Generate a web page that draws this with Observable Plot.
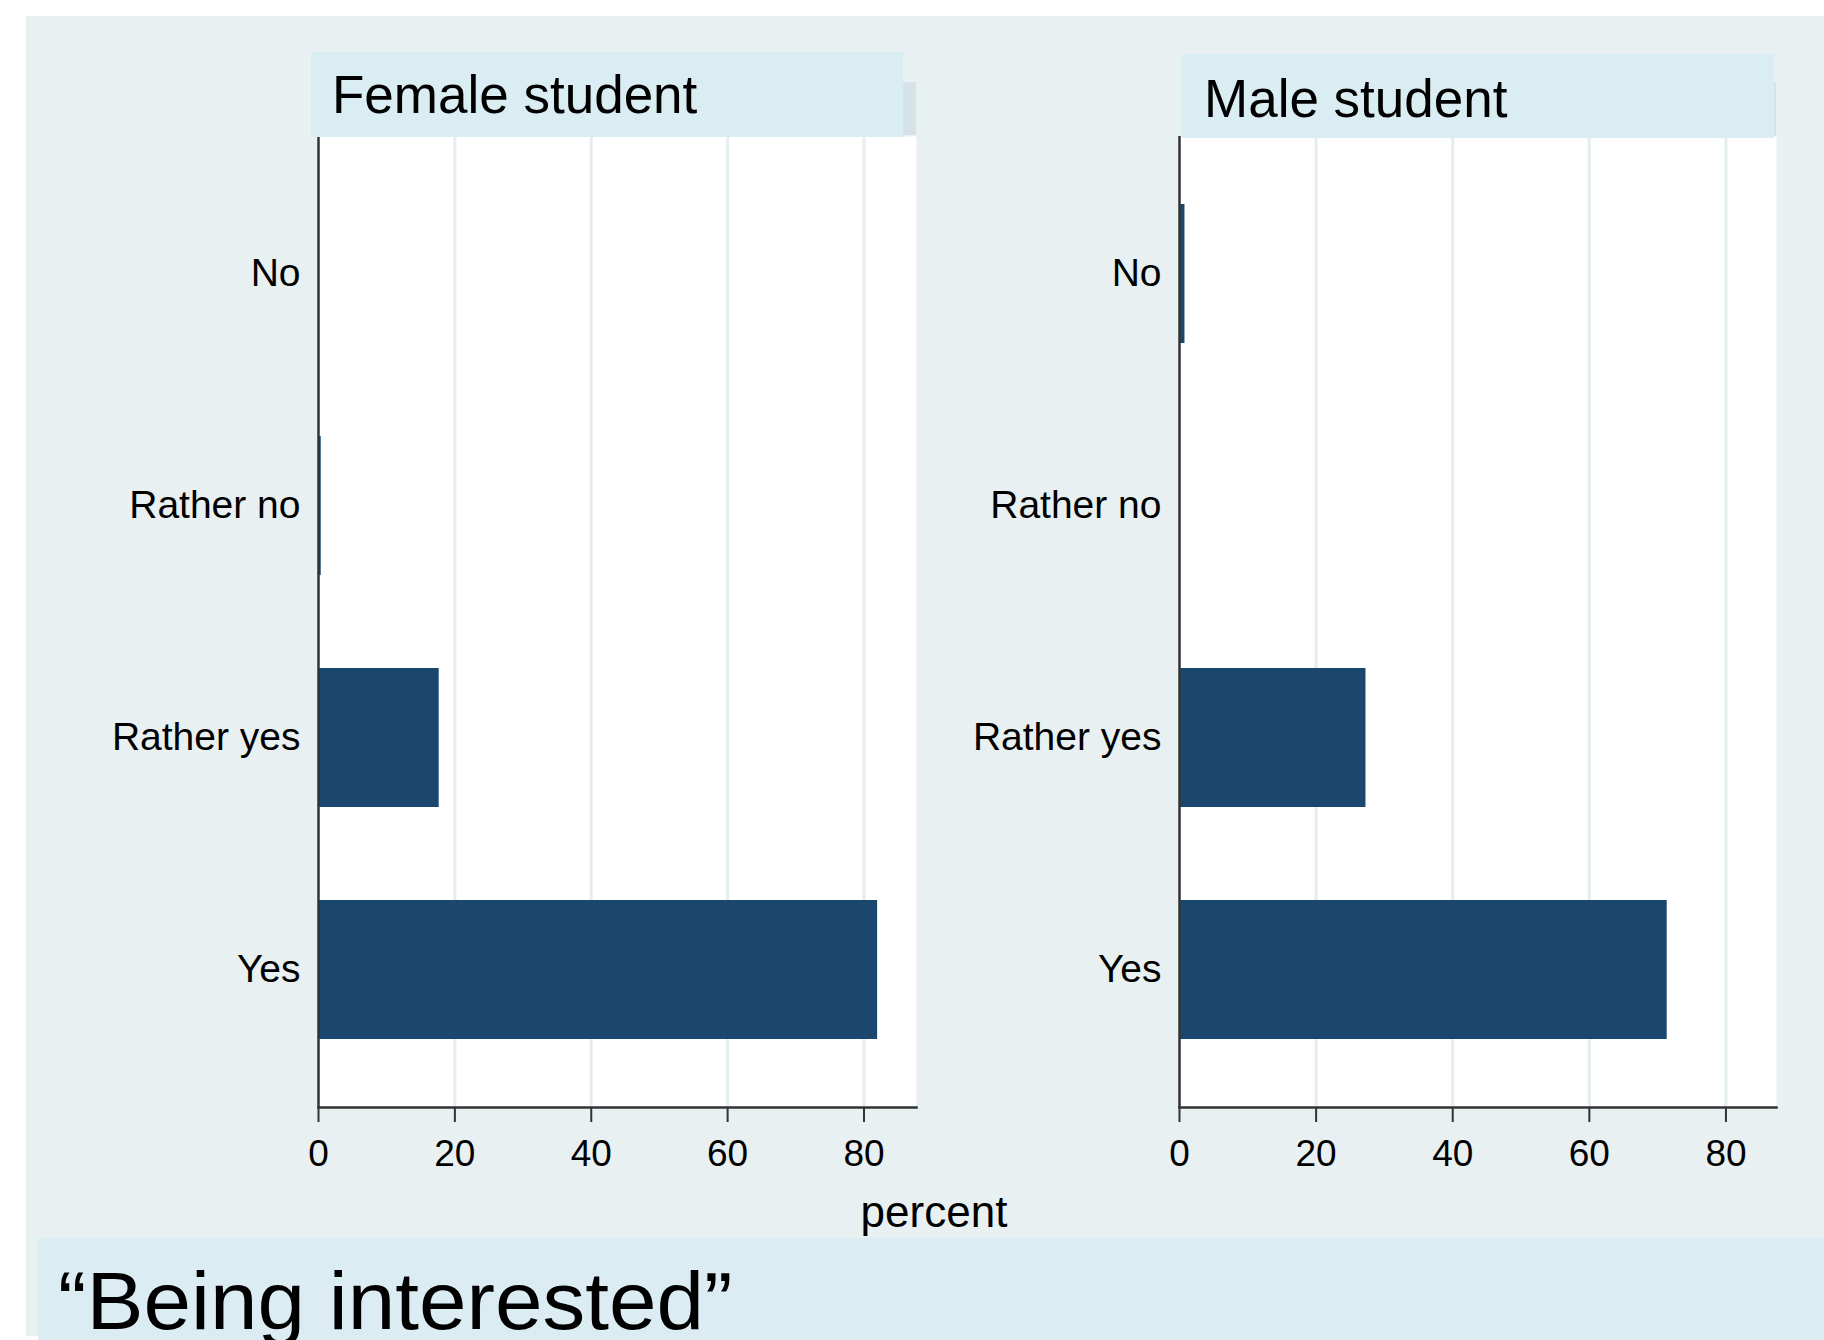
<!DOCTYPE html>
<html>
<head>
<meta charset="utf-8">
<script src="https://cdn.jsdelivr.net/npm/d3@7"></script>
<script src="https://cdn.jsdelivr.net/npm/@observablehq/plot@0.6"></script>
<style>
  html, body { margin: 0; padding: 0; background: #ffffff; }
  #root { position: relative; width: 1824px; height: 1340px; overflow: hidden; font-family: "Liberation Sans", Arial, sans-serif; }
  .abs { position: absolute; }
  .txt { white-space: nowrap; color: #000; }
</style>
</head>
<body>
<div id="root">
  <div class="abs" style="left:26px;top:16px;width:1798px;height:1320px;background:#e8f0f2;"></div>
  <div id="female" class="abs" style="left:0px;top:0px;"></div>
  <div id="male" class="abs" style="left:900px;top:0px;"></div>
  <div class="abs" style="left:311px;top:82px;width:605px;height:53px;background:#d5e3e9;"></div>
  <div class="abs" style="left:311px;top:52px;width:592px;height:85px;background:#daedf3;"></div>
  <div class="abs" style="left:1182px;top:82px;width:594px;height:54px;background:#d5e3e9;"></div>
  <div class="abs" style="left:1182px;top:54px;width:592px;height:84px;background:#daedf3;"></div>
  <div id="titleF" class="abs txt" style="left:332px;top:68px;font-size:53px;line-height:53px;"></div>
  <div id="titleM" class="abs txt" style="left:1204px;top:72px;font-size:53px;line-height:53px;"></div>
  <div id="xlabel" class="abs txt" style="left:734px;width:400px;text-align:center;top:1190px;font-size:44px;line-height:44px;"></div>
  <div class="abs" style="left:38px;top:1238px;width:1786px;height:102px;background:#dbedf3;"></div>
  <div id="caption" class="abs txt" style="left:58px;top:1261px;font-size:81px;line-height:81px;transform:scaleX(1.055);transform-origin:left top;"></div>
</div>
<script>
// ---- data ----
const categories = ["No", "Rather no", "Rather yes", "Yes"];
const femaleValues = [0, 0.4, 17.7, 82.0];
const maleValues = [0.8, 0, 27.3, 71.4];
const panelTitles = ["Female student", "Male student"];
const xTicks = [0, 20, 40, 60, 80];
const xAxisLabel = "percent";
const captionText = "\u201CBeing interested\u201D";

const barColor = "#1b476f";
const gridColor = "#e4edf0";
const axisColor = "#333333";

function panel(values, opts) {
  const rows = categories.map((c, i) => ({category: c, value: values[i]}));
  return Plot.plot({
    width: opts.width,
    height: 1240,
    marginLeft: opts.marginLeft,
    marginRight: opts.marginRight,
    marginTop: 136,
    marginBottom: 133,
    style: {background: "transparent", fontFamily: "'Liberation Sans', Arial, sans-serif", color: "#000", overflow: "visible"},
    x: {domain: [0, opts.xMax]},
    y: {domain: categories, paddingInner: 0.402, paddingOuter: 0.286},
    marks: [
      Plot.frame({fill: "white", stroke: null}),
      Plot.gridX({ticks: xTicks.filter(d => d > 0), stroke: gridColor, strokeOpacity: 1, strokeWidth: 3}),
      Plot.barX(rows, {x: "value", y: "category", fill: barColor, inset: 0}),
      Plot.ruleX([0], {stroke: axisColor, strokeWidth: 2.5}),
      Plot.frame({anchor: "bottom", stroke: axisColor, strokeWidth: 2.5}),
      Plot.axisX({ticks: xTicks, tickSize: 15, tickPadding: 17, fontSize: 37, stroke: axisColor, strokeWidth: 2, label: null, tickFormat: d => String(d)}),
      Plot.axisY({tickSize: 0, tickPadding: 18, fontSize: 39, label: null})
    ]
  });
}

document.getElementById("female").appendChild(panel(femaleValues, {width: 940, marginLeft: 318, marginRight: 24, xMax: 87.7}));
document.getElementById("male").appendChild(panel(maleValues, {width: 924, marginLeft: 279, marginRight: 48, xMax: 87.4}));
document.getElementById("titleF").textContent = panelTitles[0];
document.getElementById("titleM").textContent = panelTitles[1];
document.getElementById("xlabel").textContent = xAxisLabel;
document.getElementById("caption").textContent = captionText;
</script>
</body>
</html>
